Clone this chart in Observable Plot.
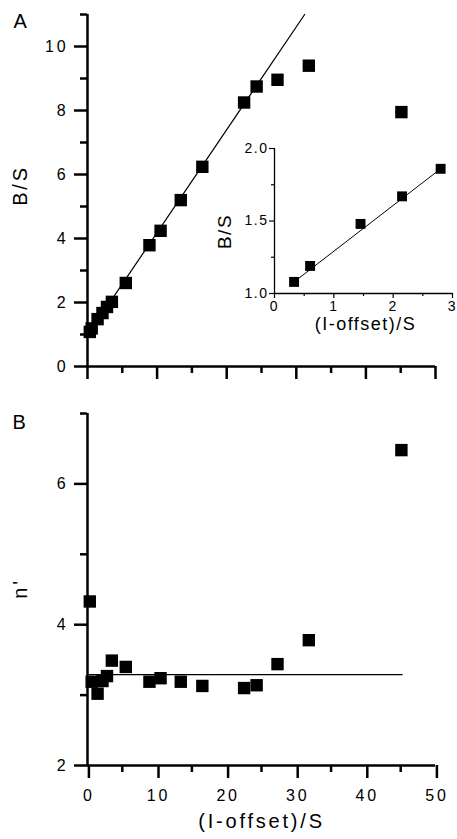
<!DOCTYPE html>
<html>
<head>
<meta charset="utf-8">
<script src="https://cdn.jsdelivr.net/npm/d3@7"></script>
<script src="https://cdn.jsdelivr.net/npm/@observablehq/plot@0.6"></script>
<style>
  html, body { margin: 0; padding: 0; background: white; }
  #chart { position: relative; width: 457px; height: 839px; overflow: hidden; background: white; }
  #chart svg { position: absolute; }
</style>
</head>
<body>
<div id="chart"></div>
<script>
// ---- data ----
const offsetOverS = [0.33, 0.6, 1.45, 2.15, 2.8, 3.5, 5.5, 8.9, 10.5, 13.4, 16.5, 22.5, 24.3, 27.3, 31.8, 45.1];
const bOverS      = [1.08, 1.19, 1.48, 1.67, 1.86, 2.02, 2.61, 3.79, 4.24, 5.2, 6.24, 8.25, 8.75, 8.96, 9.4, 7.95];
const nPrime      = [4.33, 3.19, 3.02, 3.2, 3.27, 3.49, 3.4, 3.19, 3.24, 3.19, 3.13, 3.1, 3.14, 3.44, 3.78, 6.48];

// inset: first five points
const insetX = offsetOverS.slice(0, 5);
const insetY = bOverS.slice(0, 5);

// fitted lines (end points)
const fitTopX = [0, 31.2];
const fitTopY = [0.97, 11.0];
const fitInsetX = [0.33, 2.8];
const fitInsetY = [1.08, 1.86];
const fitBottomX = [0, 45.2];
const fitBottomY = [3.29, 3.29];

// ticks
const xMajor = [0, 10, 20, 30, 40, 50];
const xMinor = [5, 15, 25, 35, 45];
const yTopMajor = [0, 2, 4, 6, 8, 10];
const yTopMinor = [1, 3, 5, 7, 9, 11];
const yBotMajor = [2, 4, 6];
const yBotMinor = [3, 5, 7];
const insetXMajor = [0, 1, 2, 3];
const insetXMinor = [0.5, 1.5, 2.5];
const insetYMajor = [1.0, 1.5, 2.0];
const insetYMinor = [1.25, 1.75];

const xLabel = "(I-offset)/S";
const yTopLabel = "B/S";
const yBotLabel = "n'";
const panelA = "A";
const panelB = "B";

// ---- build rows ----
const rows = offsetOverS.map((x, i) => ({x, bs: bOverS[i], n: nPrime[i]}));
const insetRows = insetX.map((x, i) => ({x, y: insetY[i]}));
const zipRows = (xs, ys) => xs.map((x, i) => ({x, y: ys[i]}));

const FONT = "'Liberation Sans', Arial, Helvetica, sans-serif";
const noText = () => "";
const intFmt = d3.format("d");
const root = document.getElementById("chart");
const centered = {textAnchor: "middle", lineAnchor: "middle"};

// ---- top panel ----
const topPlot = Plot.plot({
  width: 457, height: 380,
  marginLeft: 87, marginRight: 22, marginTop: 14, marginBottom: 14,
  x: {domain: [0, 50]},
  y: {domain: [0, 11]},
  style: {fontFamily: FONT, fontSize: "16px", letterSpacing: "2.8px", color: "black", background: "white", overflow: "visible"},
  marks: [
    Plot.axisY({ticks: yTopMajor, tickSize: 13, tickPadding: 6, strokeWidth: 2.5, label: null, fontSize: 16, tickFormat: intFmt}),
    Plot.axisY({ticks: yTopMinor, tickSize: 7, tickFormat: noText, strokeWidth: 2.5, label: null}),
    Plot.axisX({ticks: xMajor, tickSize: 13, tickFormat: noText, strokeWidth: 2.5, label: null}),
    Plot.axisX({ticks: xMinor, tickSize: 7, tickFormat: noText, strokeWidth: 2.5, label: null}),
    Plot.ruleX([0], {strokeWidth: 2.5}),
    Plot.ruleY([0], {strokeWidth: 2.5}),
    Plot.line(zipRows(fitTopX, fitTopY), {x: "x", y: "y", stroke: "black", strokeWidth: 1.2}),
    Plot.dot(rows, {x: "x", y: "bs", symbol: "square", r: 7, fill: "black", stroke: "none"}),
    Plot.text([panelA], {text: d => d, frameAnchor: "top-left", textAnchor: "start", lineAnchor: "top", dx: -74, dy: -1, fontSize: 20, letterSpacing: "0px"}),
    Plot.text([yTopLabel], {text: d => d, frameAnchor: "left", ...centered, rotate: -90, dx: -67, dy: -5, fontSize: 20, letterSpacing: "3px"})
  ]
});
topPlot.style.left = "0px"; topPlot.style.top = "0px";
root.appendChild(topPlot);

// ---- inset ----
const insetPlot = Plot.plot({
  width: 257, height: 210,
  marginLeft: 74, marginRight: 5, marginTop: 18, marginBottom: 47,
  x: {domain: [0, 3]},
  y: {domain: [1, 2]},
  style: {fontFamily: FONT, fontSize: "14px", letterSpacing: "1.5px", color: "black", background: "transparent", overflow: "visible"},
  marks: [
    Plot.axisY({ticks: insetYMajor, tickSize: 5, tickPadding: 1, strokeWidth: 1.2, label: null, fontSize: 14, tickFormat: d3.format(".1f")}),
    Plot.axisY({ticks: insetYMinor, tickSize: 3, tickFormat: noText, strokeWidth: 1.2, label: null}),
    Plot.axisX({ticks: insetXMajor, tickSize: 5, tickPadding: 3, strokeWidth: 1.2, label: null, fontSize: 14, tickFormat: intFmt}),
    Plot.axisX({ticks: insetXMinor, tickSize: 3, tickFormat: noText, strokeWidth: 1.2, label: null}),
    Plot.ruleX([0], {strokeWidth: 1.3}),
    Plot.ruleY([1], {strokeWidth: 1.3}),
    Plot.line(zipRows(fitInsetX, fitInsetY), {x: "x", y: "y", stroke: "black", strokeWidth: 1}),
    Plot.dot(insetRows, {x: "x", y: "y", symbol: "square", r: 5.6, fill: "black", stroke: "none"}),
    Plot.text([xLabel], {text: d => d, frameAnchor: "bottom", ...centered, dy: 31, dx: 2, fontSize: 18, letterSpacing: "2.2px"}),
    Plot.text([yTopLabel], {text: d => d, frameAnchor: "left", ...centered, rotate: -90, dx: -49.5, dy: 10.5, fontSize: 19, letterSpacing: "2px"})
  ]
});
insetPlot.style.left = "200px"; insetPlot.style.top = "130px";
root.appendChild(insetPlot);

// ---- bottom panel ----
const bottomPlot = Plot.plot({
  width: 457, height: 459,
  marginLeft: 87, marginRight: 22, marginTop: 33, marginBottom: 74,
  x: {domain: [0, 50]},
  y: {domain: [2, 7]},
  style: {fontFamily: FONT, fontSize: "16px", letterSpacing: "2.8px", color: "black", background: "white", overflow: "visible"},
  marks: [
    Plot.axisY({ticks: yBotMajor, tickSize: 13, tickPadding: 6, strokeWidth: 2.5, label: null, fontSize: 16, tickFormat: intFmt}),
    Plot.axisY({ticks: yBotMinor, tickSize: 7, tickFormat: noText, strokeWidth: 2.5, label: null}),
    Plot.axisX({ticks: xMajor, tickSize: 13, tickPadding: 11, strokeWidth: 2.5, label: null, fontSize: 16, tickFormat: intFmt, dx: 1.4}),
    Plot.axisX({ticks: xMinor, tickSize: 7, tickFormat: noText, strokeWidth: 2.5, label: null}),
    Plot.ruleX([0], {strokeWidth: 2.5}),
    Plot.ruleY([2], {strokeWidth: 2.5}),
    Plot.line(zipRows(fitBottomX, fitBottomY), {x: "x", y: "y", stroke: "black", strokeWidth: 1.2}),
    Plot.dot(rows, {x: "x", y: "n", symbol: "square", r: 7, fill: "black", stroke: "none"}),
    Plot.text([panelB], {text: d => d, frameAnchor: "top-left", textAnchor: "start", lineAnchor: "top", dx: -75, dy: 1, fontSize: 20, letterSpacing: "0px"}),
    Plot.text([yBotLabel], {text: d => d, frameAnchor: "left", ...centered, rotate: -90, dx: -67, dy: -1, fontSize: 20, letterSpacing: "2px"}),
    Plot.text([xLabel], {text: d => d, frameAnchor: "bottom", ...centered, dy: 56, dx: 0, fontSize: 20, letterSpacing: "3.8px"})
  ]
});
bottomPlot.style.left = "0px"; bottomPlot.style.top = "380px";
root.appendChild(bottomPlot);
</script>
</body>
</html>
